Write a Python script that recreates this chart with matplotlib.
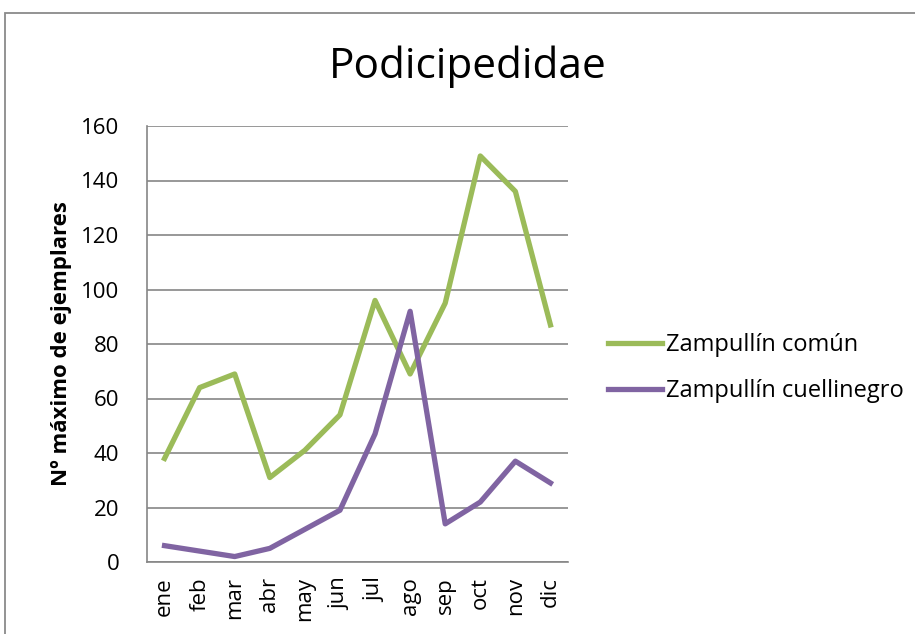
import matplotlib
matplotlib.use("Agg")
import matplotlib.pyplot as plt
from matplotlib.patches import Rectangle

months = ["ene", "feb", "mar", "abr", "may", "jun", "jul", "ago", "sep", "oct", "nov", "dic"]
comun = [38, 64, 69, 31, 41, 54, 96, 69, 95, 149, 136, 87]
cuellinegro = [6, 4, 2, 5, 12, 19, 47, 92, 14, 22, 37, 29]
series_names = ["Zampullín común", "Zampullín cuellinegro"]
yticks = [0, 20, 40, 60, 80, 100, 120, 140, 160]

plt.rcParams['font.family'] = ['Open Sans', 'DejaVu Sans']

W, H = 915, 634
fig = plt.figure(figsize=(W / 100, H / 100), dpi=100)
fig.patches.append(Rectangle((5 / W, -0.2), 1.2, 1.2 - 13 / H, transform=fig.transFigure,
                             fill=False, edgecolor="#8a8a8a", linewidth=1.3))

left, right, top, bottom = 147, 568, 126, 562
ax = fig.add_axes([left / W, 1 - bottom / H, (right - left) / W, (bottom - top) / H])

x = list(range(len(months)))
ax.plot(x, comun, color="#9BBB59", lw=3.8, label=series_names[0])
ax.plot(x, cuellinegro, color="#8064A2", lw=3.8, label=series_names[1])

ax.set_xlim(-0.5, len(months) - 0.5)
ax.set_ylim(0, 160)
ax.set_yticks(yticks)
ax.set_yticklabels([str(v) for v in yticks], fontsize=16)
ax.set_xticks(x)
ax.set_xticklabels(months, rotation=90, fontsize=16)
ax.tick_params(axis="x", length=0, pad=11)
ax.tick_params(axis="y", length=0, pad=20)
ax.grid(axis="y", color="#868686", lw=1.2)
ax.set_axisbelow(True)
for s in ["top", "right"]:
    ax.spines[s].set_visible(False)
ax.spines["left"].set_color("#868686")
ax.spines["bottom"].set_color("#868686")
ax.spines["left"].set_linewidth(1.2)
ax.spines["bottom"].set_linewidth(1.2)

fig.text(62 / W, 1 - 344 / H, "Nº máximo de ejemplares", fontsize=16, fontweight="bold",
         rotation=90, ha="center", va="center")

fig.text(468 / W, 1 - 67 / H, "Podicipedidae", fontsize=30.5, ha="center", va="center")

leg = ax.legend(loc="center left", frameon=False, fontsize=17, handlelength=2.3,
                handletextpad=0.15, labelspacing=0.92, borderpad=0, borderaxespad=0)
leg.set_bbox_to_anchor((608 / W, 1 - 368 / H), transform=fig.transFigure)

fig.savefig("out.png", dpi=100)
